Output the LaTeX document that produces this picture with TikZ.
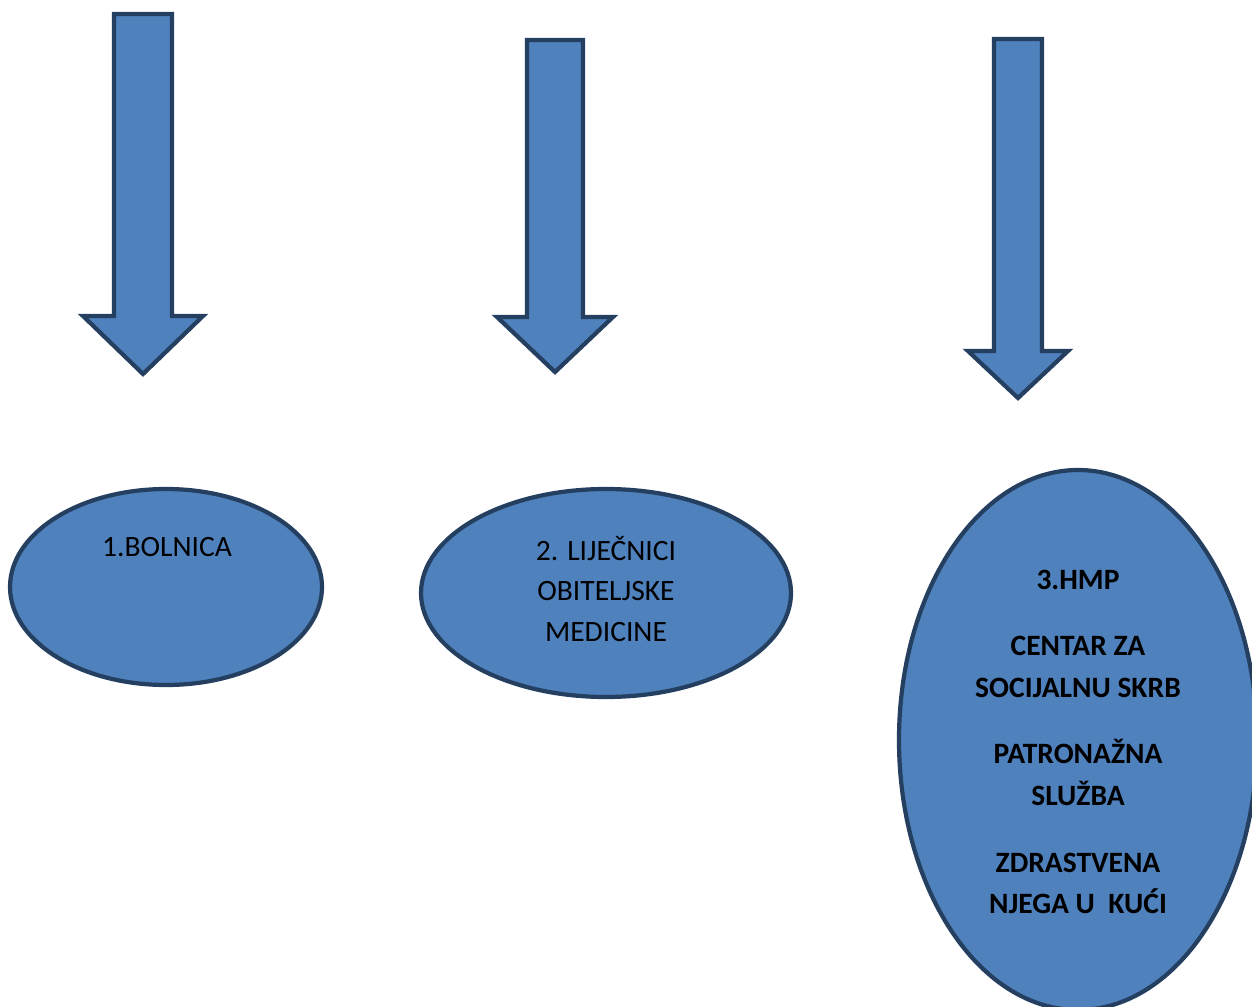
\documentclass[tikz,border=0pt]{standalone}
\usepackage{fontspec}
\setmainfont{Carlito}
\definecolor{fillblue}{HTML}{4F81BD}
\definecolor{edgeblue}{HTML}{243F60}
\tikzset{
  blueshape/.style={fill=fillblue, draw=edgeblue, line width=2.4pt, line join=miter},
  labeltext/.style={align=center, inner sep=0pt, font=\fontsize{16.8}{23.2}\selectfont}
}

\begin{document}
\begin{tikzpicture}[x=0.02cm, y=-0.02cm]
\clip (0,0) rectangle (1252,1007);
% Draw arrows
\draw[blueshape] (114,14) -- (172,14) -- (172,316) -- (203,316) -- (143,374) -- (83,316) -- (114,316) -- cycle;
\draw[blueshape] (527,40) -- (583,40) -- (583,317) -- (613,317) -- (555,372) -- (497,317) -- (527,317) -- cycle;
\draw[blueshape] (994,39) -- (1042,39) -- (1042,351) -- (1068,351) -- (1018,398) -- (968,351) -- (994,351) -- cycle;
% Draw ellipses
\coordinate (bolnica) at (166,587);
\coordinate (obitelj) at (606,593);
\coordinate (hmp) at (1078,740);
\draw[blueshape] (bolnica) ellipse [x radius=156, y radius=98];
\draw[blueshape] (obitelj) ellipse [x radius=185, y radius=104];
\draw[blueshape] (hmp) ellipse [x radius=179, y radius=270];
% Labels
\node[labeltext] (t1) at (167,547) {1.BOLNICA};
\node[labeltext] (t2) at (606,589) {2. LIJEČNICI\\OBITELJSKE\\MEDICINE};
\node[labeltext, font=\fontsize{16.8}{23.8}\selectfont\bfseries] (t3) at (1078,742)
  {3.HMP\\[14pt]CENTAR ZA\\SOCIJALNU SKRB\\[14pt]PATRONAŽNA\\SLUŽBA\\[14pt]ZDRASTVENA\\NJEGA U\ \ KUĆI};
\end{tikzpicture}
\end{document}
